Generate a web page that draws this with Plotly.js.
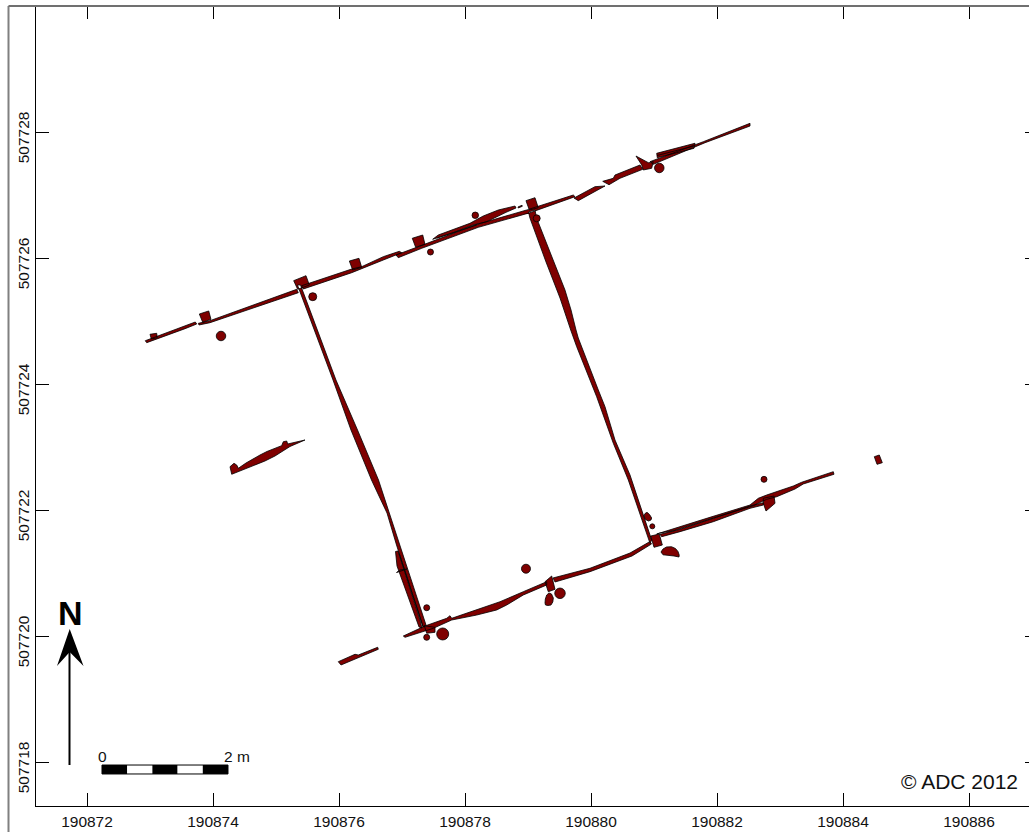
<!DOCTYPE html>
<html><head><meta charset="utf-8">
<style>html,body{margin:0;padding:0;background:#fff;overflow:hidden;width:1029px;height:832px}</style>
<script src="https://cdn.plot.ly/plotly-3.0.1.min.js"></script></head>
<body><div id="chart" style="width:1040px;height:832px"></div>
<script>
// Map origin: eastings and northings are stored in metres past these values.
const originE = 190870, originN = 507720;

const xTicks = [190872,190874,190876,190878,190880,190882,190884,190886];
const yTicks = [507718,507720,507722,507724,507726,507728];

// Slot and trench outlines (metres past origin)
const nwDashE=[2.925,3.529,3.719,3.741,3.556,2.948], nwDashN=[4.687,4.910,4.984,4.952,4.878,4.656];
const post1E=[3.000,3.106,3.116,3.021], post1N=[4.789,4.805,4.735,4.714];
const north1E=[3.767,3.952,5.329,5.354,3.952,3.778], north1N=[4.963,5.005,5.503,5.449,4.973,4.937];
const post2E=[3.783,3.932,3.968,3.837], post2N=[5.111,5.159,5.027,4.979];
const post3E=[5.281,5.476,5.529,5.344], post3N=[5.640,5.719,5.571,5.503];
const north2E=[5.408,6.202,6.360,6.703,6.957,6.995,6.703,6.386,6.202,5.433], north2N=[5.560,5.825,5.862,6.021,6.106,6.084,5.968,5.837,5.767,5.508];
const post4E=[6.164,6.317,6.360,6.217], post4N=[5.952,5.995,5.852,5.810];
const north3E=[6.905,6.995,7.286,8.159,8.635,8.979,9.719,9.746,9.032,8.662,8.211,7.313,6.941], north3N=[6.048,6.084,6.190,6.524,6.656,6.762,7.000,6.973,6.719,6.614,6.487,6.154,6.005];
const post5E=[7.163,7.329,7.365,7.217], post5N=[6.313,6.365,6.217,6.170];
const stripeE=[7.487,7.576,8.079,8.290,8.529,8.794,8.810,8.651,8.344,8.132,7.814], stripeN=[6.297,6.365,6.551,6.667,6.762,6.825,6.794,6.725,6.576,6.524,6.402];
const sliverNE=[8.841,8.905,8.910,8.846], sliverNN=[6.810,6.837,6.821,6.794];
const post6E=[8.968,9.111,9.163,9.021], post6N=[6.910,6.957,6.798,6.762];
const north4E=[9.730,10.063,10.222,9.798], north4N=[6.952,7.132,7.143,6.910];
const north5E=[10.186,10.354,10.381,10.778,10.821,10.460,10.286], north5N=[7.217,7.265,7.317,7.476,7.408,7.265,7.163];
const spurE=[10.714,10.910,10.989,10.963,10.830,10.805], spurN=[7.619,7.513,7.529,7.424,7.397,7.476];
const north6E=[10.937,11.783,12.524,12.524,11.810,10.989], north6N=[7.529,7.846,8.138,8.095,7.830,7.487];
const north7E=[11.043,11.651,11.635,11.052], north7N=[7.662,7.821,7.741,7.592];
const westWallE=[5.341,5.508,5.905,6.190,6.516,6.627,6.762,6.913,7.333,7.381,6.960,6.794,6.698,6.627,6.294,5.952,5.556,5.389], westWallN=[5.571,5.127,4.063,3.270,2.476,2.238,1.952,1.444,0.143,0.175,1.444,1.952,2.238,2.476,3.270,4.063,5.127,5.571];
const westSliverE=[6.897,6.937,7.286,7.317,7.270,6.921], westSliverN=[1.341,1.349,0.254,0.127,0.143,1.111];
const westNickE=[6.913,6.968,7.079,7.000], westNickN=[1.008,1.048,1.063,1.032];
const eastWallE=[9.008,9.032,9.286,9.508,9.678,9.773,10.090,10.354,10.592,10.937,10.963,10.619,10.381,10.222,10.116,9.798,9.762,9.683,9.587,9.413,9.138,9.111], eastWallN=[6.730,6.630,5.937,5.365,4.857,4.592,3.798,3.059,2.476,1.471,1.524,2.556,3.111,3.640,3.905,4.730,4.857,5.175,5.492,5.937,6.630,6.762];
const pit1E=[10.841,10.857,10.889,10.929,10.963,10.952,10.913,10.865], pit1N=[1.905,1.944,1.963,1.929,1.873,1.841,1.825,1.849];
const post7E=[10.948,11.084,11.132,11.000], post7N=[1.587,1.619,1.444,1.408];
const pit2E=[11.111,11.143,11.198,11.278,11.341,11.381,11.400,11.397,11.317,11.222,11.143], pit2N=[1.333,1.381,1.413,1.417,1.389,1.341,1.286,1.254,1.270,1.278,1.289];
const south1E=[11.095,11.413,11.941,12.524,12.735,12.735,12.524,11.941,11.413,11.122], south1N=[1.614,1.694,1.868,2.063,2.116,2.079,2.027,1.814,1.656,1.576];
const south2E=[11.043,11.306,11.889,12.524,12.656,12.789,13.211,13.344,13.846,13.857,13.370,13.238,12.948,12.789,12.576,11.889,11.306,11.095], south2N=[1.619,1.698,1.884,2.079,2.186,2.238,2.381,2.440,2.608,2.567,2.413,2.333,2.211,2.170,2.068,1.857,1.671,1.635];
const spur2E=[12.735,12.905,12.921,12.778,12.735], spur2N=[2.186,2.222,2.106,1.984,2.106];
const post8E=[14.497,14.576,14.624,14.540], post8N=[2.846,2.873,2.751,2.725];
const south3E=[7.021,7.365,7.710,7.762,7.789,8.186,8.556,8.925,9.297,9.297,8.925,8.662,8.503,8.186,7.789,7.497,7.048], south3N=[0.000,0.159,0.281,0.322,0.281,0.413,0.544,0.703,0.862,0.810,0.651,0.492,0.413,0.333,0.254,0.122,-0.021];
const south4E=[9.397,9.984,10.619,10.937,10.960,10.651,9.984,9.429], south4N=[0.921,1.075,1.317,1.500,1.460,1.270,1.021,0.857];
const post9E=[9.270,9.376,9.429,9.322], post9N=[0.862,0.952,0.741,0.703];
const pit3E=[9.270,9.275,9.297,9.333,9.373,9.402,9.394,9.365,9.317,9.278], pit3N=[0.524,0.587,0.651,0.683,0.667,0.603,0.540,0.492,0.484,0.492];
const post10E=[7.354,7.524,7.524,7.392], post10N=[0.163,0.138,0.059,0.043];
const swDashE=[5.989,6.254,6.306,6.614,6.624,6.032], swDashN=[-0.408,-0.290,-0.302,-0.179,-0.211,-0.460];
const westSlotE=[4.270,4.333,4.376,4.402,4.524,4.640,4.746,4.857,4.984,5.090,5.116,5.170,5.186,5.460,5.222,5.116,4.984,4.825,4.640,4.492,4.349,4.297], westSlotN=[2.687,2.741,2.714,2.662,2.746,2.817,2.873,2.929,2.984,3.021,3.084,3.095,3.048,3.111,3.008,2.944,2.857,2.778,2.706,2.651,2.598,2.567];

// Round post holes
const holeE=[4.127,5.583,7.452,8.163,9.138,11.084,10.973,12.746,9.508,8.968,7.392,7.646,7.392];
const holeN=[4.762,5.386,6.095,6.678,6.630,7.429,1.741,2.487,0.678,1.068,0.449,0.032,-0.021];
const holeSize=[9.5,8,6,6.5,7,9.5,5,6,10.5,9,6,12,6];

// Internal seams between slots
const seamE=[7.551,8.186,null,11.048,11.635,null,6.952,7.333];
const seamN=[6.313,6.524,null,7.627,7.778,null,1.317,0.159];

const outlines=[[westWallE,westWallN],[eastWallE,eastWallN],[westSliverE,westSliverN],[westNickE,westNickN],
 [nwDashE,nwDashN],[post1E,post1N],[north1E,north1N],[post2E,post2N],[north2E,north2N],[post3E,post3N],
 [post4E,post4N],[north3E,north3N],[post5E,post5N],[stripeE,stripeN],[sliverNE,sliverNN],[post6E,post6N],
 [north4E,north4N],[north5E,north5N],[north6E,north6N],[north7E,north7N],[spurE,spurN],
 [south1E,south1N],[south2E,south2N],[spur2E,spur2N],[post7E,post7N],[post8E,post8N],[pit1E,pit1N],[pit2E,pit2N],
 [south3E,south3N],[south4E,south4N],[post9E,post9N],[pit3E,pit3N],[post10E,post10N],[swDashE,swDashN],[westSlotE,westSlotN]];

const polyX=[], polyY=[];
outlines.forEach(([e,n])=>{
  e.forEach((v,i)=>{polyX.push(originE+v);polyY.push(originN+n[i]);});
  polyX.push(originE+e[0],null);polyY.push(originN+n[0],null);
});

const RED='#7f0000';
const traces=[
 {type:'scatter',mode:'lines',x:polyX,y:polyY,fill:'toself',fillcolor:RED,line:{color:'#000',width:0.8},hoverinfo:'skip',showlegend:false},
 {type:'scatter',mode:'lines',x:seamE.map(v=>v===null?null:originE+v),y:seamN.map(v=>v===null?null:originN+v),line:{color:'#000',width:0.8},hoverinfo:'skip',showlegend:false},
 {type:'scatter',mode:'markers',x:holeE.map(v=>originE+v),y:holeN.map(v=>originN+v),marker:{color:RED,opacity:1,size:holeSize,sizemode:'diameter',line:{color:'#000',width:0.8}},hoverinfo:'skip',showlegend:false}
];

// Scale bar: five 0.4 m cells, drawn on the map axes
const barE=190872.238, barN0=507717.952, barN1=507717.810, barCell=0.4;
const barFill=['#000','#fff','#000','#fff','#000'];
const shapes=barFill.map((c,i)=>({type:'rect',xref:'x',yref:'y',x0:barE+i*barCell,x1:barE+(i+1)*barCell,y0:barN0,y1:barN1,fillcolor:c,line:{width:0}}));
shapes.push({type:'rect',xref:'x',yref:'y',x0:barE,x1:barE+5*barCell,y0:barN0,y1:barN1,fillcolor:'rgba(0,0,0,0)',line:{color:'#000',width:1}});

// North arrow
const pxX=p=>190872+(p-87)/63, pxY=p=>507728-(p-132)/63;
shapes.push({type:'line',xref:'x',yref:'y',x0:pxX(69.5),x1:pxX(69.5),y0:pxY(765),y1:pxY(650),line:{color:'#000',width:2}});
shapes.push({type:'path',xref:'x',yref:'y',fillcolor:'#000',line:{width:0},
  path:`M ${pxX(69.7)} ${pxY(629)} L ${pxX(83.5)} ${pxY(666)} L ${pxX(69.7)} ${pxY(652)} L ${pxX(57)} ${pxY(666)} Z`});

const W=1040,H=832,L=36,R=1038,T=6,B=806;
// Outer grey sheet border
shapes.push({type:'line',xref:'paper',yref:'paper',x0:-27.5/(R-L),x1:-27.5/(R-L),y0:-1,y1:1,line:{color:'#808080',width:2}});
shapes.push({type:'line',xref:'paper',yref:'paper',x0:-27.5/(R-L),x1:1.1,y0:1,y1:1,line:{color:'#707070',width:2}});

const F='"Liberation Sans",Arial,sans-serif';
const annotations=[
 {text:'N',xref:'x',yref:'y',x:pxX(70.5),y:pxY(613),showarrow:false,font:{family:F,size:34,color:'#000',weight:'bold'}},
 {text:'0',xref:'x',yref:'y',x:pxX(102),y:pxY(756),showarrow:false,font:{family:F,size:15.5,color:'#111'}},
 {text:'2 m',xref:'x',yref:'y',x:pxX(237),y:pxY(756),showarrow:false,font:{family:F,size:15.5,color:'#111'}},
 {text:'© ADC 2012',xref:'x',yref:'y',x:pxX(959),y:pxY(781),showarrow:false,font:{family:F,size:21,color:'#111'}}
];
// Northing labels sit slightly below their ticks in the source map
yTicks.forEach(v=>annotations.push({text:String(v),xref:'paper',yref:'y',x:(23.3-L)/(R-L),xanchor:'center',yanchor:'middle',y:v,yshift:-5,textangle:-90,showarrow:false,
  font:{family:F,size:15.5,color:'#111'}}));

const axisCommon={showgrid:false,zeroline:false,ticks:'inside',ticklen:13,tickwidth:1,tickcolor:'#000',
  showline:true,linecolor:'#000',linewidth:1,mirror:'ticks',tickfont:{family:F,size:15.5,color:'#111'}};

const layout={width:W,height:H,margin:{l:L,r:W-R,t:T,b:H-B,pad:0},paper_bgcolor:'#fff',plot_bgcolor:'#fff',showlegend:false,
  xaxis:Object.assign({},axisCommon,{range:[pxX(L),pxX(R)],tickmode:'array',tickvals:xTicks,ticktext:xTicks.map(String),ticklabelstandoff:1}),
  yaxis:Object.assign({},axisCommon,{range:[pxY(B),pxY(T)],tickmode:'array',tickvals:yTicks,showticklabels:false}),
  shapes,annotations};
Plotly.newPlot('chart',traces,layout,{staticPlot:true,displayModeBar:false});
</script></body></html>
